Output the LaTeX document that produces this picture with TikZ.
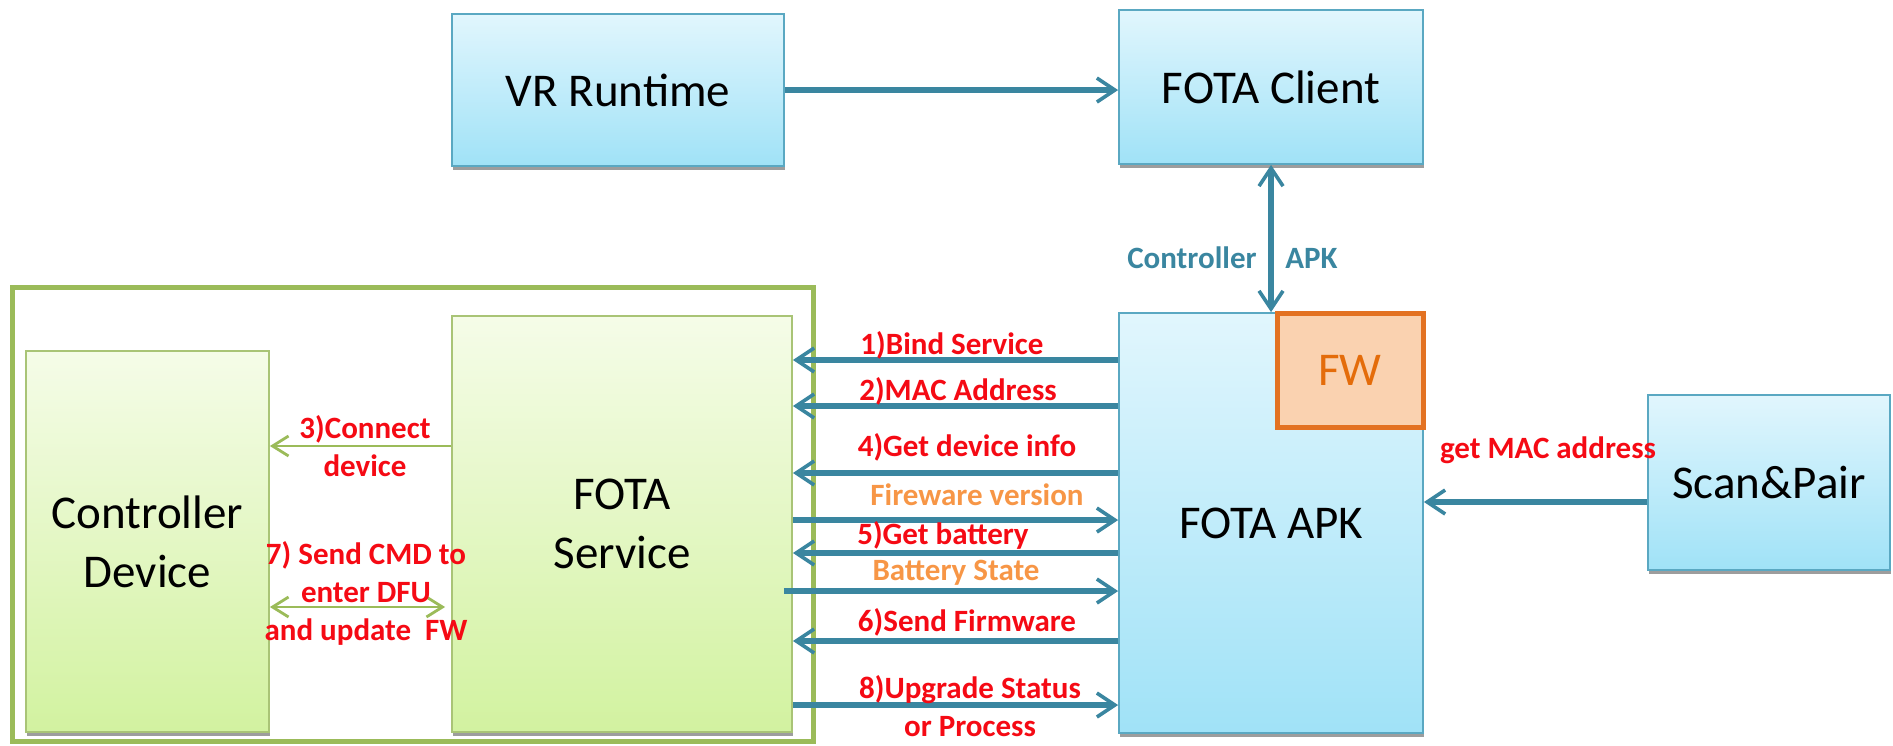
\documentclass[tikz,border=0pt]{standalone}
\usepackage{fontspec}
\setmainfont{Carlito}
\usetikzlibrary{arrows.meta}
\usetikzlibrary{shadows}

\definecolor{bluetop}{HTML}{E1F6FD}
\definecolor{bluebot}{HTML}{A0E2F7}
\definecolor{boxedge}{HTML}{5AA8C2}
\definecolor{greentop}{HTML}{F5FCE8}
\definecolor{greenbot}{HTML}{D2F2A0}
\definecolor{greenedge}{HTML}{A9C476}
\definecolor{framec}{HTML}{9BBB59}
\definecolor{flowc}{HTML}{3A86A0}
\definecolor{fwedge}{HTML}{E37222}
\definecolor{fwfill}{HTML}{FAD2B0}
\definecolor{fwtext}{HTML}{E46C0A}
\definecolor{fwver}{HTML}{F79646}
\definecolor{msgred}{HTML}{F50A14}

\begin{document}
\begin{tikzpicture}[x=0.5pt,y=-0.5pt,
 flowtip/.tip={Straight Barb[length=9pt,width=12pt,line width=1.8pt]},
 linktip/.tip={Straight Barb[length=8pt,width=10pt,line width=1.4pt]},
 blk/.style={align=center,inner sep=0pt,font=\fontsize{23.5}{29.5}\selectfont,
   drop shadow={shadow xshift=0.6pt,shadow yshift=-1.8pt,fill=black!55,opacity=0.7}},
 bluebox/.style={blk,draw=boxedge,line width=0.9pt,top color=bluetop,bottom color=bluebot},
 greenbox/.style={blk,draw=greenedge,line width=0.9pt,top color=greentop,bottom color=greenbot},
 flow/.style={draw=flowc,line width=2.8pt,-flowtip},
 link/.style={draw=framec,line width=1pt,-linktip},
 lbl/.style={inner sep=0pt,align=center,font=\fontsize{15.5}{19}\selectfont\bfseries}]
 \useasboundingbox (0,0) rectangle (1893,745);

 % frame round the controller side
 \draw[draw=framec,line width=2.5pt] (12,287) rectangle (813,741);

 \node[bluebox,minimum width=166pt,minimum height=76pt] (vr) at (618,90) {VR Runtime};
 \node[bluebox,minimum width=152pt,minimum height=77pt] (client) at (1271,87) {FOTA Client};
 \node[bluebox,minimum width=152pt,minimum height=210pt] (apk) at (1271,523) {FOTA APK};
 \node[bluebox,minimum width=121pt,minimum height=87.5pt] (scan) at (1769,482.5) {Scan\&Pair};
 \node[greenbox,minimum width=121.5pt,minimum height=190.5pt] (ctrl) at (147.5,541.5) {Controller\\Device};
 \node[greenbox,minimum width=170pt,minimum height=208pt] (svc) at (622,524) {FOTA\\Service};
 \node[draw=fwedge,fill=fwfill,line width=2.5pt,minimum width=73pt,minimum height=57pt,inner sep=0pt,
   text=fwtext,font=\fontsize{23.5}{29.5}\selectfont] (fw) at (1350,370) {FW};

 \draw[flow] (vr.east) -- (vr.east -| client.west);
 \draw[flow,flowtip-flowtip] (client.south) -- (apk.north);
 \node[lbl,text=flowc,anchor=east] (ctlab) at (1257,258) {Controller};
 \node[lbl,text=flowc,anchor=west] (apklab) at (1285,258) {APK};

 % messages between service and apk
 \draw[flow] (apk.west |- 0,360) -- (svc.east |- 0,360);
 \draw[flow] (apk.west |- 0,406) -- (svc.east |- 0,406);
 \draw[flow] (apk.west |- 0,473) -- (svc.east |- 0,473);
 \draw[flow] (svc.east |- 0,520) -- (apk.west |- 0,520);
 \draw[flow] (apk.west |- 0,553) -- (svc.east |- 0,553);
 \draw[flow] ([xshift=-4.5pt]svc.east |- 0,591) -- (apk.west |- 0,591);
 \draw[flow] (apk.west |- 0,641) -- (svc.east |- 0,641);
 \draw[flow] (svc.east |- 0,705) -- (apk.west |- 0,705);
 \node[lbl,text=msgred] (m1) at (952,345) {1)Bind Service};
 \node[lbl,text=msgred] (m2) at (958,391) {2)MAC Address};
 \node[lbl,text=msgred] (m4) at (967,447) {4)Get device info};
 \node[lbl,text=fwver] (mfv) at (977,495) {Fireware version};
 \node[lbl,text=msgred] (m5) at (943,535) {5)Get battery};
 \node[lbl,text=fwver] (mbs) at (956,573) {Battery State};
 \node[lbl,text=msgred] (m6) at (967,622) {6)Send Firmware};
 \node[lbl,text=msgred] (m8) at (970,706) {8)Upgrade Status\\or Process};

 \draw[flow] (scan.west |- 0,502) -- (apk.east |- 0,502);
 \node[lbl,text=msgred] (mac) at (1548,450) {get MAC address};

 % service to controller device
 \draw[link] (svc.west |- 0,446) -- (ctrl.east |- 0,446);
 \draw[link,linktip-linktip] (ctrl.east |- 0,607) -- ([xshift=-3pt]svc.west |- 0,607);
 \node[lbl,text=msgred] (m3) at (365,446) {3)Connect\\device};
 \node[lbl,text=msgred] (m7) at (366,593) {7) Send CMD to\\enter DFU\\and update\ \ FW};
\end{tikzpicture}
\end{document}
